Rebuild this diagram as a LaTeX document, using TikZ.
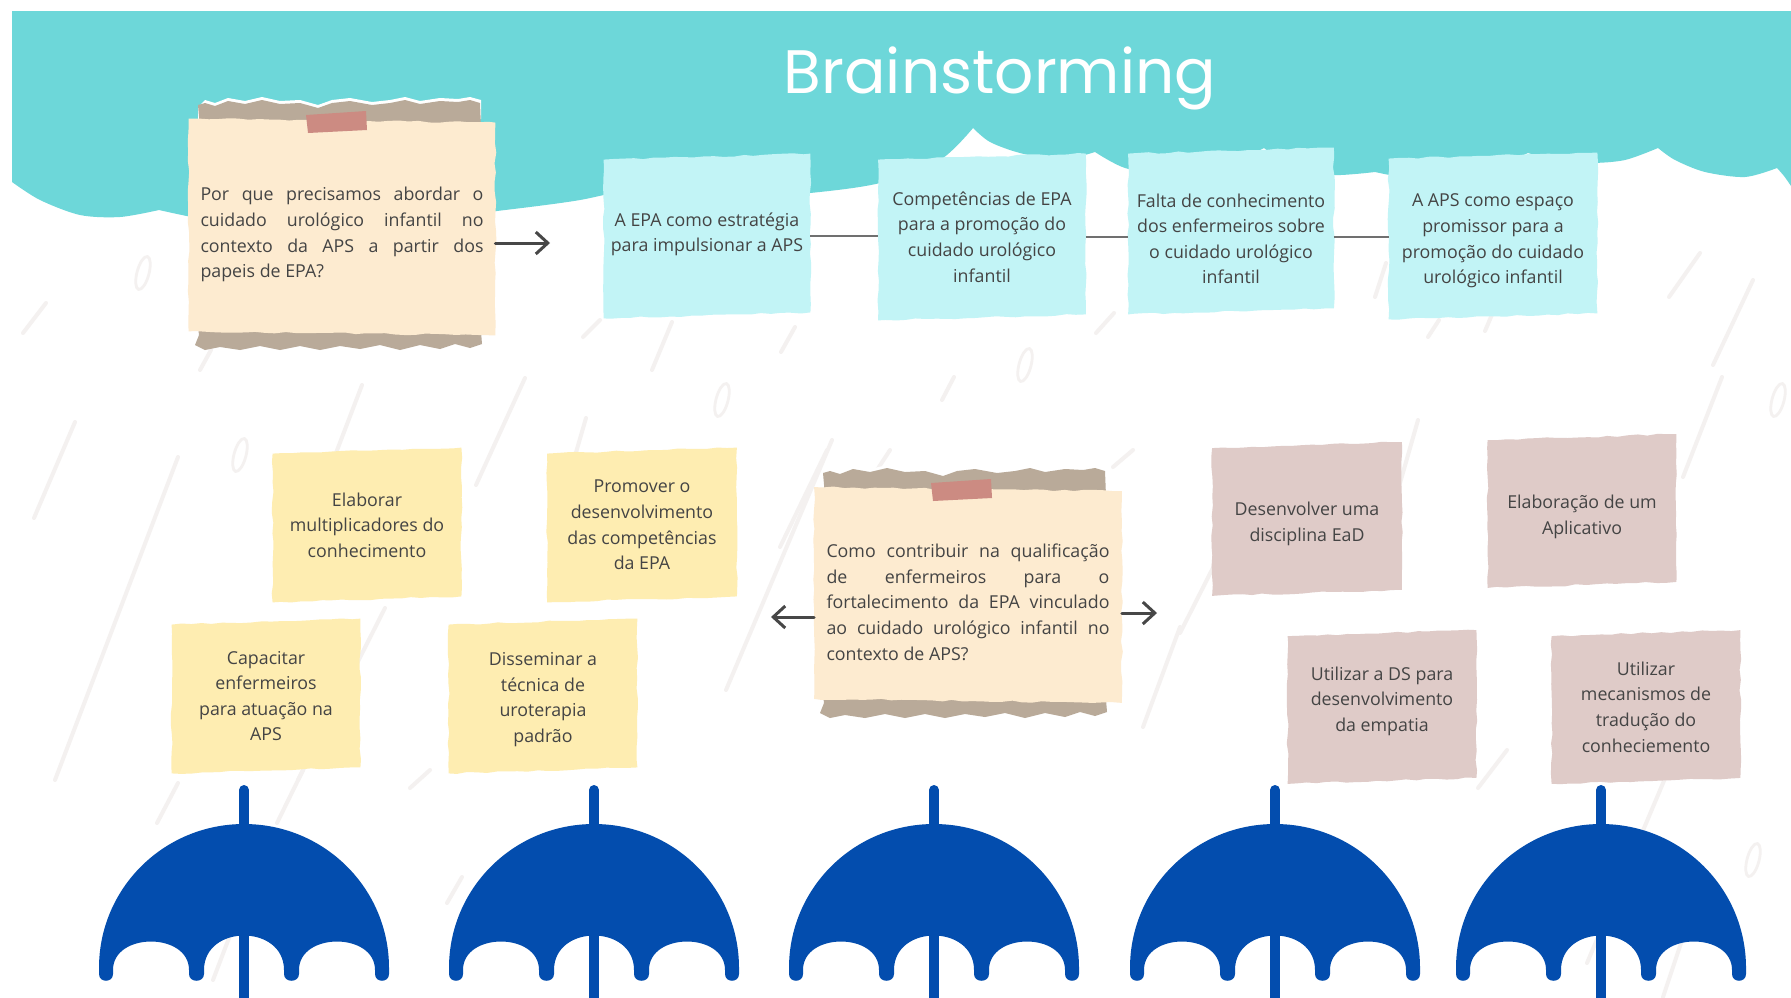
\documentclass[tikz,border=0pt]{standalone}
\usepackage{fontspec}
\setmainfont{Open Sans}
\newfontfamily\titlefont{Poppins}
\usetikzlibrary{arrows.meta,decorations.pathmorphing}
\pgfdeclarelayer{bg}
\pgfdeclarelayer{paper}
\pgfsetlayers{bg,paper,main}

\definecolor{sky}{HTML}{6DD7D9}
\definecolor{bluenote}{HTML}{C2F4F6}
\definecolor{cream}{HTML}{FDEBD0}
\definecolor{tanpaper}{HTML}{B9AA99}
\definecolor{tape}{HTML}{CC8B82}
\definecolor{yellownote}{HTML}{FEEDB1}
\definecolor{pinknote}{HTML}{DFCBC8}
\definecolor{umbrellablue}{HTML}{034DAE}
\definecolor{rain}{HTML}{F4F1F0}
\definecolor{ink}{HTML}{444444}
\definecolor{linkgray}{HTML}{707070}
\definecolor{arrowgray}{HTML}{474747}

\pgfmathsetseed{7}
\newcommand\pxu{0.5pt}
\newcommand\notefont{\fontsize{8.9}{12.8}\selectfont}
\newcommand\jline[1]{\makebox[141.5pt][s]{#1}}
% invisible struts that move a text block down or up inside its card
\newcommand\sinkto[1]{\rule{0pt}{#1}}
\newcommand\liftby[1]{\rule[-#1]{0pt}{0pt}}
% coloured sheet behind a note: #1 node, #2 colour, #3 tilt in px
\newcommand\paperfill[3]{%
  \begin{pgfonlayer}{paper}
    \fill[#2, decorate, decoration={random steps, segment length=5pt, amplitude=0.45pt}]
      ([yshift={(-1)*(#3)*\pxu}]#1.north west) -- ([yshift={(#3)*\pxu}]#1.north east)
      -- ([yshift={(#3)*\pxu}]#1.south east) -- ([yshift={(-1)*(#3)*\pxu}]#1.south west) -- cycle;
  \end{pgfonlayer}}

\tikzset{
  note/.style={rectangle, inner sep=0pt, text=ink, align=center, font=\notefont},
  card/.style 2 args={minimum width=#1*\pxu, minimum height=#2*\pxu},
  linkline/.style={draw=linkgray, line width=1pt},
  arrowline/.style={draw=arrowgray, line width=1.5pt, line cap=round,
    -{Straight Barb[length=6pt,width=11pt]}},
  rainline/.style={draw=rain, line width=2pt, line cap=round},
  tornstrips/.pic={
    \fill[white] (8,-12) -- (15,-19) -- (25,-16) -- (38,-21) -- (55,-18) -- (72,-22) -- (90,-18)
      -- (110,-19) -- (128,-14) -- (142,-19) -- (160,-21) -- (182,-17) -- (200,-19) -- (215,-22)
      -- (230,-18) -- (250,-21) -- (268,-20) -- (280,-22) -- (291,-19) -- (291,0) -- (8,0) -- cycle;
    \fill[tanpaper] (10,9) -- (8,-14) -- (15,-16) -- (25,-13) -- (38,-18) -- (55,-15) -- (72,-19)
      -- (90,-15) -- (110,-16) -- (128,-11) -- (142,-16) -- (160,-18) -- (182,-14) -- (200,-16)
      -- (215,-19) -- (230,-15) -- (250,-18) -- (268,-17) -- (280,-19) -- (290,-16) -- (291,9) -- cycle;
    \fill[tanpaper] (7,200) -- (290,200) -- (292,225) -- (280,229) -- (265,225) -- (250,230)
      -- (230,226) -- (210,231) -- (190,226) -- (170,230) -- (150,227) -- (130,231) -- (110,227)
      -- (90,231) -- (70,227) -- (50,231) -- (30,228) -- (15,231) -- (5,226) -- (9,216) -- cycle;
  },
  tapestrip/.pic={
    \fill[tape] (116,-4) -- (176,-8) -- (177,11) -- (118,14) -- cycle;
  },
  umbrella/.pic={
    \draw[umbrellablue, line width=10*\pxu, line cap=round] (0,-176) -- (0,45);
    \fill[umbrellablue] (-145,2) .. controls (-145,-78) and (-80,-142) .. (0,-142)
      .. controls (80,-142) and (145,-78) .. (145,2)
      -- (145,8) .. controls (145,17) and (131,17) .. (131,8)
      -- (131,4) .. controls (131,-34) and (55,-34) .. (55,4)
      -- (55,8) .. controls (55,17) and (40,17) .. (40,8)
      -- (40,4) .. controls (40,-42) and (-40,-42) .. (-40,4)
      -- (-40,8) .. controls (-40,17) and (-55,17) .. (-55,8)
      -- (-55,4) .. controls (-55,-34) and (-131,-34) .. (-131,4)
      -- (-131,8) .. controls (-131,17) and (-145,17) .. (-145,8) -- cycle;
  }
}

\begin{document}
\begin{tikzpicture}[x=0.5pt, y=-0.5pt]
\useasboundingbox (0,0) rectangle (1791,997);

\begin{pgfonlayer}{bg}
  \fill[white] (0,0) rectangle (1791,997);
  % falling rain
  \foreach \a/\b/\c/\d in {23/333/46/303, 34/518/75/422, 55/780/178/457, 200/370/211/350,
      336/453/362/385, 476/485/525/378, 726/690/832/440, 652/370/672/322, 781/352/795/327,
      298/780/385/608, 568/480/586/418, 583/337/600/320, 942/400/954/377, 1096/333/1114/313,
      1428/337/1439/320, 1485/331/1519/251, 1713/365/1753/280, 1375/297/1386/263,
      1669/297/1700/253, 1180/633/1227/540, 1398/490/1418/420, 1683/477/1722/377,
      157/823/178/783, 213/980/237/917, 277/823/303/770, 410/788/430/770, 447/903/462/877,
      1478/788/1507/750, 1587/963/1677/750, 1663/997/1683/937, 1143/727/1180/627,
      1113/467/1133/450, 780/547/827/450, 877/470/890/450}
    \draw[rainline] (\a,\b) -- (\c,\d);
  \foreach \p/\q in {240/455, 722/400, 1025/365, 1778/400, 143/273, 1753/860}
    \draw[rain, line width=1.4pt, rotate around={-15:(\p,\q)}] (\p,\q) ellipse [x radius=6, y radius=17];

  % cloud band
  \fill[sky] (12,11) -- (1791,11) -- (1791,186)
    -- plot[smooth] coordinates {(1791,186) (1784,176) (1777,168)}
    -- plot[smooth] coordinates {(1777,168) (1745,177) (1705,172) (1675,160) (1658,148)}
    -- plot[smooth] coordinates {(1658,148) (1625,160) (1590,163) (1555,160) (1528,153)}
    -- plot[smooth] coordinates {(1528,153) (1480,172) (1425,180) (1375,172)}
    -- plot[smooth] coordinates {(1375,172) (1330,175) (1290,165) (1264,148)}
    -- plot[smooth] coordinates {(1264,148) (1220,168) (1170,175) (1125,168) (1095,152)}
    -- plot[smooth] coordinates {(1095,152) (1060,160) (1020,153) (990,142) (973,128)}
    -- plot[smooth] coordinates {(973,128) (940,160) (880,183) (810,193) (740,197) (680,194) (640,186)}
    -- plot[smooth] coordinates {(640,186) (580,200) (497,211) (400,222) (300,228) (220,222) (159,210)}
    -- plot[smooth] coordinates {(159,210) (120,217) (80,215) (40,200) (12,182)}
    -- cycle;

  % torn backing paper of the two question cards
  \pic at (190,119) {tornstrips};
  \pic at (815,487) {tornstrips};
\end{pgfonlayer}

% title
\node[anchor=base, text=white, inner sep=0pt] (title) at (1000,93)
  {\resizebox{216pt}{!}{\titlefont Brainstorming}};

% question cards
\node[note, align=left, card={306}{212}] (qA) at (342,227)
  {\sinkto{14.5pt}\jline{Por que precisamos abordar o}\\ \jline{cuidado urológico infantil no}\\
   \jline{contexto da APS a partir dos}\\ papeis de EPA?};
\node[note, align=left, card={307}{211}] (qC) at (968,595)
  {\sinkto{14pt}\jline{Como contribuir na qualificação}\\ \jline{de enfermeiros para o}\\
   \jline{fortalecimento da EPA vinculado}\\ \jline{ao cuidado urológico infantil no}\\
   contexto de APS?};
\paperfill{qA}{cream}{-2}
\paperfill{qC}{cream}{-2}
\pic at (190,119) {tapestrip};
\pic at (815,487) {tapestrip};

% top row
\node[note, card={206}{158}] (b1) at (707,236) {A EPA como estratégia\\para impulsionar a APS\liftby{4pt}};
\node[note, card={207}{160}] (b2) at (982,237) {Competências de EPA\\para a promoção do\\cuidado urológico\\infantil};
\node[note, card={205}{160}] (b3) at (1231,231) {\sinkto{14.5pt}Falta de conhecimento\\dos enfermeiros sobre\\o cuidado urológico\\infantil};
\node[note, card={208}{160}] (b4) at (1493,236) {\sinkto{11.5pt}A APS como espaço\\promissor para a\\promoção do cuidado\\urológico infantil};
\foreach \n in {b1,b2,b3,b4} {\paperfill{\n}{bluenote}{3}}

% lower left cards
\node[note, card={188}{148}] (y1) at (367,525) {Elaborar\\multiplicadores do\\conhecimento};
\node[note, card={189}{148}] (y2) at (642,525) {Promover o\\desenvolvimento\\das competências\\da EPA};
\node[note, card={188}{148}] (y3) at (266,696) {Capacitar\\enfermeiros\\para atuação na\\APS};
\node[note, card={188}{148}] (y4) at (543,696) {\sinkto{10pt}Disseminar a\\técnica de\\uroterapia\\padrão};
\foreach \n in {y1,y2,y3,y4} {\paperfill{\n}{yellownote}{3}}

% lower right cards
\node[note, card={189}{147}] (p1) at (1307,519) {\sinkto{11.5pt}Desenvolver uma\\disciplina EaD};
\node[note, card={188}{147}] (p2) at (1582,511) {\sinkto{12.8pt}Elaboração de um\\Aplicativo};
\node[note, card={188}{147}] (p3) at (1382,707) {Utilizar a DS para\\desenvolvimento\\da empatia\liftby{8pt}};
\node[note, card={188}{147}] (p4) at (1646,707) {Utilizar\\mecanismos de\\tradução do\\conheciemento};
\foreach \n in {p1,p2,p3,p4} {\paperfill{\n}{pinknote}{3}}

% connectors
\coordinate (tipA) at (550,243);
\coordinate (tipL) at (771,617);
\coordinate (tipR) at (1157,613);
\draw[arrowline] (qA.east |- tipA) -- (tipA);
\draw[linkline] (b1.east) -- (b2.west |- b1.east);
\draw[linkline] (b2.east) -- (b3.west |- b2.east);
\draw[linkline] (b3.east |- b2.east) -- (b4.west |- b2.east);
\draw[arrowline] (qC.west |- tipL) -- (tipL);
\draw[arrowline] (qC.east |- tipR) -- (tipR);

% umbrellas
\foreach \ux in {244,594,934,1275,1601}
  \pic at (\ux,966) {umbrella};
\end{tikzpicture}
\end{document}
